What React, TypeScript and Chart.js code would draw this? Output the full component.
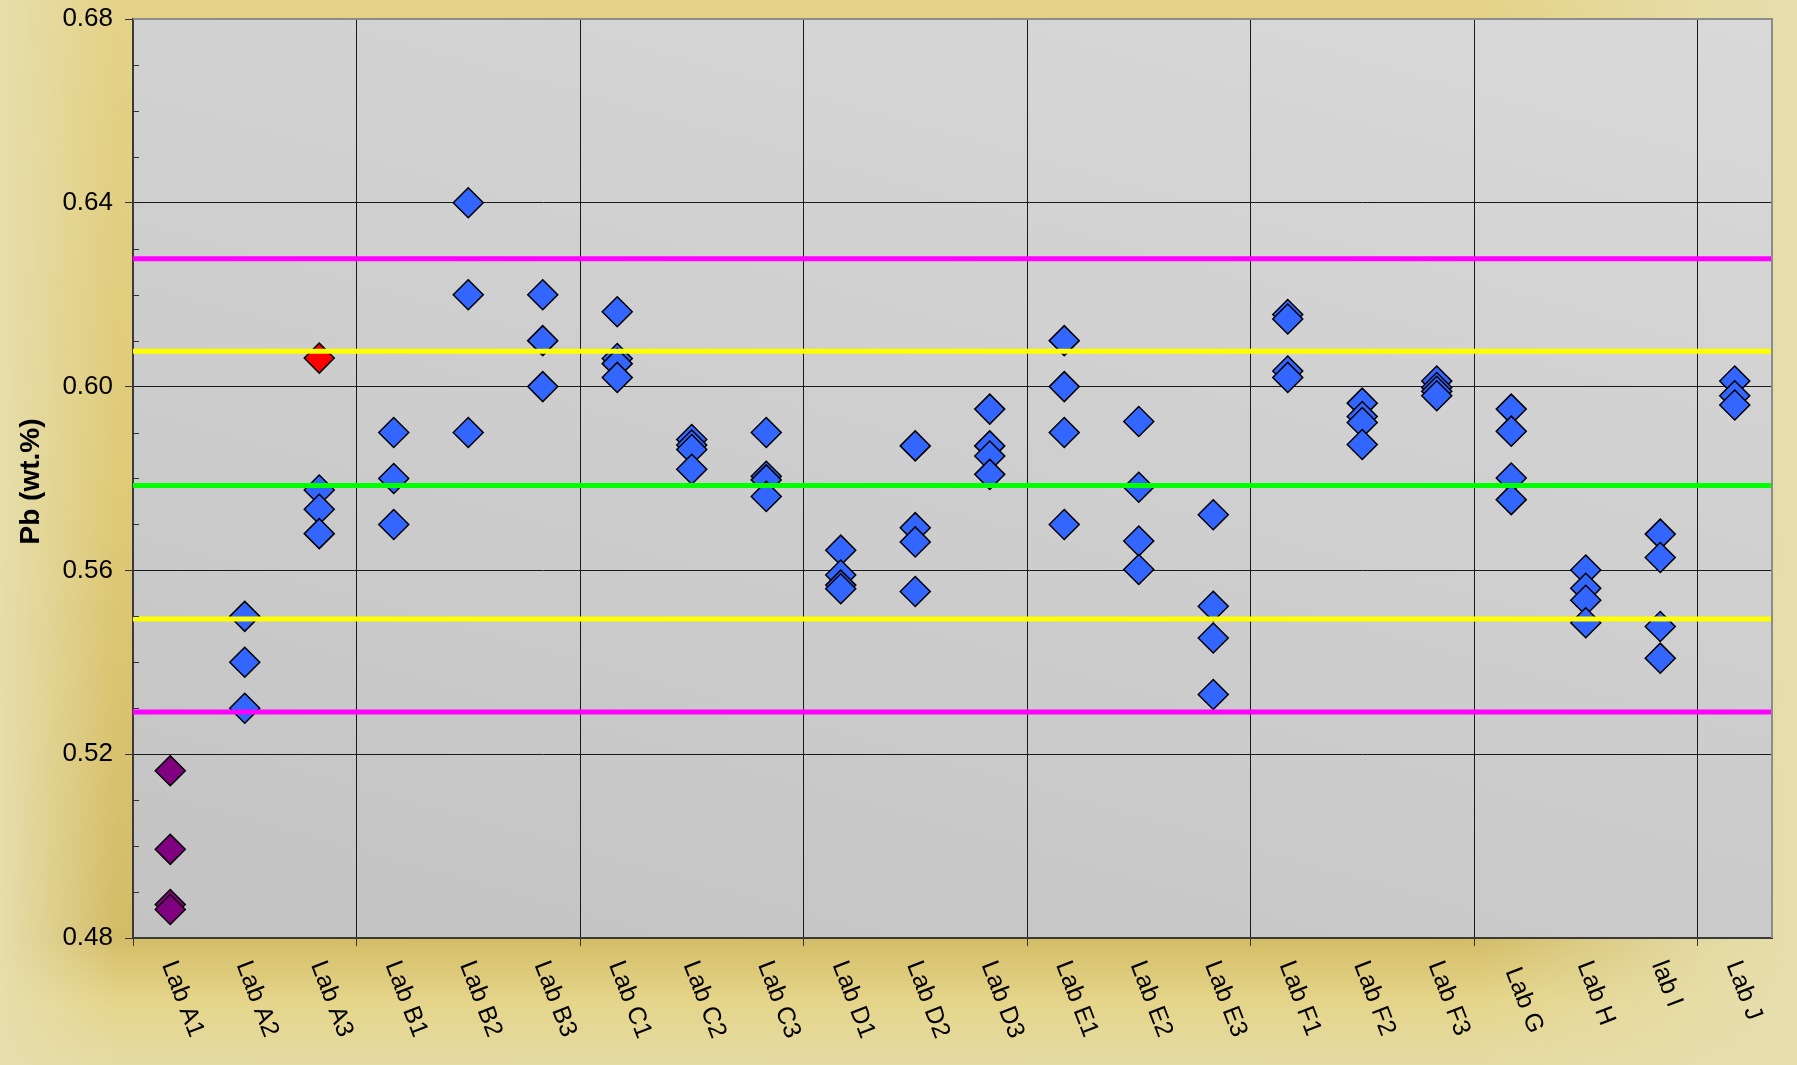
import React, { useEffect, useRef } from "react";
import { Chart, registerables } from "chart.js";

Chart.register(...registerables);

// ---------------- data ----------------
const categories = [
  "Lab A1", "Lab A2", "Lab A3", "Lab B1", "Lab B2", "Lab B3",
  "Lab C1", "Lab C2", "Lab C3", "Lab D1", "Lab D2", "Lab D3",
  "Lab E1", "Lab E2", "Lab E3", "Lab F1", "Lab F2", "Lab F3",
  " Lab G", "Lab H", "lab I", "Lab J",
];

// replicate results (blue), highest to lowest per lab; null = no result
const result1 = [null, 0.550, 0.5775, 0.590, 0.640, 0.620, 0.6163, 0.5885, 0.5900, 0.5644, 0.5871, 0.5951, 0.610, 0.5924, 0.5721, 0.6157, 0.5964, 0.6012, 0.5951, 0.5601, 0.5679, 0.6012];
const result2 = [null, 0.540, 0.5733, 0.580, 0.620, 0.610, 0.6061, 0.5873, 0.5805, 0.5590, 0.5693, 0.5871, 0.600, 0.5781, 0.5522, 0.6147, 0.5935, 0.5998, 0.5903, 0.5561, 0.5628, 0.5980];
const result3 = [null, 0.530, 0.5680, 0.570, 0.590, 0.600, 0.6050, 0.5863, 0.5797, 0.5568, 0.5662, 0.5849, 0.590, 0.5664, 0.5453, 0.6034, 0.5922, 0.5990, 0.5801, 0.5535, 0.5478, 0.5960];
const result4 = [null, null, null, null, null, null, 0.6020, 0.5820, 0.5761, 0.5560, 0.5554, 0.5809, 0.570, 0.5602, 0.5330, 0.6020, 0.5874, 0.5980, 0.5754, 0.5486, 0.5409, null];

// excluded lab (purple) and rejected single result (red)
const labA1Results = [0.5164, 0.4993, 0.4873, 0.4862];
const labA3Rejected = [0.6062];

// reference lines
const upperAction = 0.6278;
const upperWarning = 0.6077;
const assignedValue = 0.5785;
const lowerWarning = 0.5494;
const lowerAction = 0.5292;

// axis
const yMin = 0.48;
const yMax = 0.68;
const yMinorStep = 0.01;
const yMajorTicks = [0.48, 0.52, 0.56, 0.60, 0.64, 0.68];

const FONT = "'Liberation Sans', Arial, Helvetica, sans-serif";

const isMajor = (v: number) => yMajorTicks.some((t) => Math.abs(t - v) < 1e-6);

const decorPlugin = {
  id: "decor",
  beforeDraw(chart: any) {
    const { ctx, chartArea } = chart;
    const { left, top, right, bottom } = chartArea;
    const g = ctx.createLinearGradient(left, bottom, left + 360, bottom - 1285);
    g.addColorStop(0, "#c3c3c3");
    g.addColorStop(1, "#d9d9d9");
    ctx.save();
    ctx.fillStyle = g;
    ctx.fillRect(left, top, right - left, bottom - top);
    ctx.restore();
  },
  afterDraw(chart: any) {
    const { ctx, chartArea } = chart;
    const { left, top, right, bottom } = chartArea;
    const yScale = chart.scales.y;
    const xScale = chart.scales.x;
    ctx.save();
    // top/right frame
    ctx.strokeStyle = "#8c8c8c";
    ctx.lineWidth = 2;
    ctx.beginPath();
    ctx.moveTo(left, top);
    ctx.lineTo(right, top);
    ctx.lineTo(right, bottom);
    ctx.stroke();

    // minor ticks (inside)
    ctx.strokeStyle = "#333";
    ctx.lineWidth = 1;
    for (const t of yScale.ticks) {
      if (isMajor(t.value)) continue;
      const y = Math.round(yScale.getPixelForValue(t.value)) + 0.5;
      ctx.beginPath();
      ctx.moveTo(left, y);
      ctx.lineTo(left + 6, y);
      ctx.stroke();
    }

    // rotated category labels
    ctx.fillStyle = "#000";
    ctx.font = `25px ${FONT}`;
    ctx.textAlign = "left";
    ctx.textBaseline = "middle";
    categories.forEach((lab, i) => {
      const x = xScale.getPixelForValue(i);
      ctx.save();
      ctx.translate(x - 2, bottom + 24);
      ctx.rotate((69 * Math.PI) / 180);
      ctx.fillText(lab, 0, 0);
      ctx.restore();
    });

    // y axis title
    ctx.save();
    ctx.translate(31.5, (top + bottom) / 2 + 3);
    ctx.rotate(-Math.PI / 2);
    ctx.font = `bold 28px ${FONT}`;
    ctx.textAlign = "center";
    ctx.textBaseline = "middle";
    ctx.fillText("Pb (wt.%)", 0, 0);
    ctx.restore();

    ctx.restore();
  },
};

export default function App() {
  const canvasRef = useRef<HTMLCanvasElement | null>(null);

  useEffect(() => {
    if (!canvasRef.current) return;

    const diamond = {
      type: "line" as const,
      showLine: false,
      pointStyle: "rectRot",
      pointRadius: 15,
      pointHoverRadius: 15,
      pointBorderWidth: 1.5,
      pointBorderColor: "#000000",
      xAxisID: "x",
      yAxisID: "y",
    };

    const resultSets = [result1, result2, result3, result4].map((arr, i) => ({
      ...diamond,
      label: `Result ${i + 1}`,
      data: arr,
      pointBackgroundColor: "#3366ff",
      backgroundColor: "#3366ff",
      order: 10 - i,
    }));

    const refLine = (label: string, v: number, color: string) => ({
      type: "line" as const,
      label,
      data: [
        { x: 0, y: v },
        { x: 1, y: v },
      ],
      xAxisID: "x2",
      yAxisID: "y",
      borderColor: color,
      borderWidth: 5,
      pointRadius: 0,
      pointHoverRadius: 0,
      order: 0,
    });

    const chart = new Chart(canvasRef.current, {
      type: "line",
      data: {
        labels: categories,
        datasets: [
          ...resultSets,
          {
            ...diamond,
            label: "Lab A1",
            data: labA1Results.map((v) => ({ x: categories[0], y: v })),
            pointBackgroundColor: "#800080",
            backgroundColor: "#800080",
            order: 5,
          },
          {
            ...diamond,
            label: "Rejected",
            data: labA3Rejected.map((v) => ({ x: categories[2], y: v })),
            pointBackgroundColor: "#ff0000",
            backgroundColor: "#ff0000",
            order: 5,
          },
          refLine("Upper action", upperAction, "#ff00ff"),
          refLine("Upper warning", upperWarning, "#ffff00"),
          refLine("Assigned", assignedValue, "#00ff00"),
          refLine("Lower warning", lowerWarning, "#ffff00"),
          refLine("Lower action", lowerAction, "#ff00ff"),
        ] as any,
      },
      options: {
        responsive: false,
        devicePixelRatio: 1,
        animation: false,
        layout: { padding: { top: 19, right: 25, bottom: 0, left: 0 } },
        plugins: {
          legend: { display: false },
          tooltip: { enabled: false },
          title: { display: false },
        },
        scales: {
          x: {
            type: "category",
            offset: true,
            grid: {
              offset: true,
              lineWidth: 1,
              color: (c: any) =>
                c.index !== undefined && c.index > 0 && c.index % 3 === 0 ? "#1a1a1a" : "rgba(0,0,0,0)",
              tickColor: (c: any) =>
                c.index !== undefined && c.index % 3 === 0 ? "#333333" : "rgba(0,0,0,0)",
              tickLength: 8,
              drawTicks: true,
            },
            border: { display: true, color: "#3a3a3a", width: 2 },
            ticks: { display: false },
            afterFit: (scale: any) => {
              scale.height = 127;
              scale.paddingLeft = 0;
              scale.paddingRight = 0;
            },
          },
          x2: {
            type: "linear",
            display: false,
            min: 0,
            max: 1,
          },
          y: {
            type: "linear",
            min: yMin,
            max: yMax,
            border: { display: true, color: "#3a3a3a", width: 2 },
            grid: {
              lineWidth: 1,
              color: (c: any) => {
                const v = c.tick ? c.tick.value : NaN;
                if (!isMajor(v)) return "rgba(0,0,0,0)";
                if (Math.abs(v - yMin) < 1e-6 || Math.abs(v - yMax) < 1e-6) return "rgba(0,0,0,0)";
                return "#1a1a1a";
              },
              tickColor: (c: any) => (c.tick && isMajor(c.tick.value) ? "#333333" : "rgba(0,0,0,0)"),
              tickLength: 8,
            },
            ticks: {
              stepSize: yMinorStep,
              autoSkip: false,
              padding: 12,
              color: "#000",
              font: { family: FONT, size: 26 },
              callback: (v: any) => (isMajor(Number(v)) ? Number(v).toFixed(2) : ""),
            },
            afterFit: (scale: any) => {
              scale.width = 133;
              scale.paddingTop = 0;
              scale.paddingBottom = 0;
            },
          },
        },
      } as any,
      plugins: [decorPlugin],
    });

    return () => chart.destroy();
  }, []);

  return (
    <div
      style={{
        position: "absolute",
        left: 0,
        top: 0,
        width: 1797,
        height: 1065,
        overflow: "hidden",
        background: [
          "linear-gradient(to right, rgba(230,222,172,1) 0%, rgba(230,222,172,0) 6.5%, rgba(230,222,172,0) 82%, rgba(230,222,172,0.85) 95%, rgba(230,222,172,1) 100%)",
          "linear-gradient(to bottom, #e4d287 0%, #dfca78 45%, #d3bc66 88%, #e5d58a 94%, #e4dba4 100%)",
        ].join(", "),
      }}
    >
      <canvas ref={canvasRef} width={1797} height={1065} style={{ display: "block" }} />
    </div>
  );
}
